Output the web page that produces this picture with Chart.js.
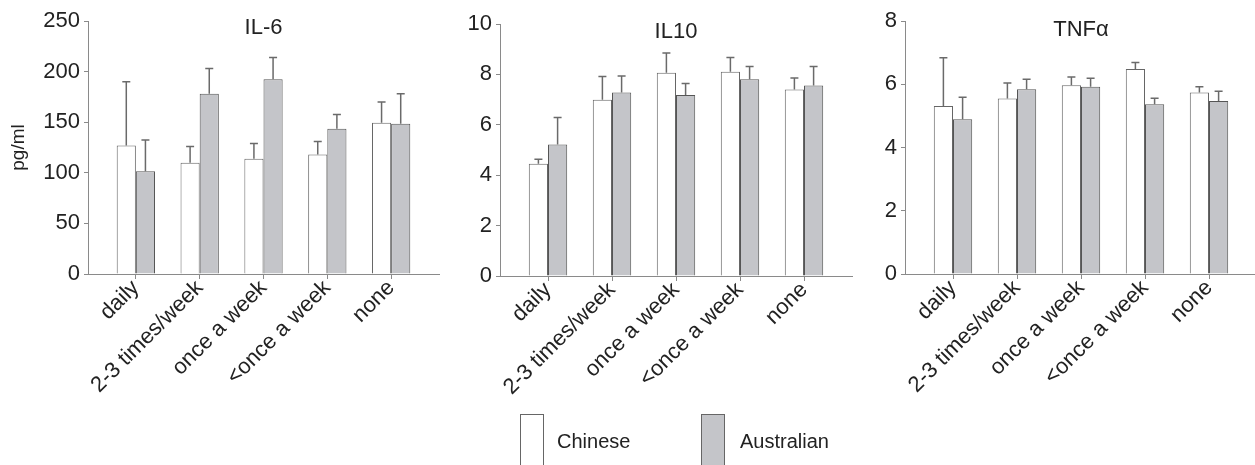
<!DOCTYPE html>
<html><head><meta charset="utf-8">
<script src="https://cdn.jsdelivr.net/npm/chart.js@4.4.1/dist/chart.umd.min.js"></script>
<style>
html,body{margin:0;padding:0;background:#fff;}
body{position:relative;width:1255px;height:465px;overflow:hidden;font-family:"Liberation Sans",Arial,sans-serif;}
canvas{position:absolute;top:0;}
.box{position:absolute;top:414px;width:22px;height:70px;border:1px solid #666;}
.lbl{position:absolute;font-size:20px;color:#222;line-height:20px;}
</style></head><body>
<canvas id="c1" width="445" height="465" style="left:0"></canvas>
<canvas id="c2" width="410" height="465" style="left:445px"></canvas>
<canvas id="c3" width="405" height="465" style="left:855px"></canvas>
<div class="box" style="left:520px;background:#fff"></div>
<div class="lbl" style="left:557px;top:431px">Chinese</div>
<div class="box" style="left:701px;background:#c4c5c9"></div>
<div class="lbl" style="left:740px;top:431px">Australian</div>
<script>
const categories = ['daily', '2-3 times/week', 'once a week', '<once a week', 'none'];
const seriesNames = ['Chinese', 'Australian'];

const il6Chinese = [127, 110, 114, 118, 149.5];
const il6ChineseErr = [63, 16, 15, 13, 20.5];
const il6Australian = [101.5, 178, 192.5, 143.5, 148.5];
const il6AustralianErr = [31, 25, 21.5, 14, 29.5];

const il10Chinese = [4.45, 6.99, 8.07, 8.11, 7.40];
const il10ChineseErr = [0.18, 0.93, 0.78, 0.56, 0.46];
const il10Australian = [5.22, 7.28, 7.18, 7.81, 7.56];
const il10AustralianErr = [1.07, 0.66, 0.46, 0.50, 0.75];

const tnfChinese = [5.31, 5.55, 5.97, 6.48, 5.74];
const tnfChineseErr = [1.53, 0.49, 0.26, 0.21, 0.18];
const tnfAustralian = [4.89, 5.84, 5.92, 5.37, 5.47];
const tnfAustralianErr = [0.70, 0.32, 0.27, 0.19, 0.31];

const il6Ticks = {max: 250, step: 50};
const il10Ticks = {max: 10, step: 2};
const tnfTicks = {max: 8, step: 2};

const FONT = '"Liberation Sans", Arial, sans-serif';
const TEXT = '#222';
const AXIS = '#8a8a8a';

const errorBarPlugin = {
  id: 'errorBars',
  afterDatasetsDraw(chart) {
    const ctx = chart.ctx;
    const yScale = chart.scales.y;
    ctx.save();
    ctx.strokeStyle = '#6a6a6a';
    ctx.lineWidth = 1.5;
    chart.data.datasets.forEach((ds, di) => {
      const meta = chart.getDatasetMeta(di);
      meta.data.forEach((bar, i) => {
        const top = yScale.getPixelForValue(ds.data[i].y + ds.errors[i]);
        ctx.beginPath();
        ctx.moveTo(bar.x, bar.y);
        ctx.lineTo(bar.x, top);
        ctx.moveTo(bar.x - 4, top);
        ctx.lineTo(bar.x + 4, top);
        ctx.stroke();
      });
    });
    ctx.restore();
  }
};

function makePanel(id, title, chinese, chineseErr, australian, australianErr, ticks, geom, yTitle) {
  const titlePlugin = {
    id: 'panelTitle',
    afterDraw(chart) {
      const a = chart.chartArea, ctx = chart.ctx;
      ctx.save();
      ctx.font = '22px ' + FONT;
      ctx.fillStyle = TEXT;
      ctx.textAlign = 'center';
      ctx.textBaseline = 'middle';
      ctx.fillText(title, (a.left + a.right) / 2, a.top + geom.titleDy);
      ctx.restore();
    }
  };
  const toPts = arr => arr.map((v, i) => ({x: i, y: v}));
  new Chart(document.getElementById(id), {
    type: 'bar',
    data: {
      datasets: [
        {label: seriesNames[0], data: toPts(chinese), errors: chineseErr,
         backgroundColor: '#ffffff', borderColor: '#666', borderWidth: 1,
         categoryPercentage: 0.6, barPercentage: 1.0},
        {label: seriesNames[1], data: toPts(australian), errors: australianErr,
         backgroundColor: '#c4c5c9', borderColor: '#555', borderWidth: 1,
         categoryPercentage: 0.6, barPercentage: 1.0}
      ]
    },
    options: {
      responsive: false,
      animation: false,
      layout: {padding: {left: 0, right: geom.padRight, top: geom.top, bottom: 0}},
      plugins: {legend: {display: false}, tooltip: {enabled: false}, title: {display: false}},
      scales: {
        x: {
          type: 'linear',
          offset: false,
          min: -0.75, max: 4.75,
          afterBuildTicks: s => { s.ticks = categories.map((c, i) => ({value: i})); },
          afterFit: s => { s.height = 465 - geom.bottom; },
          border: {display: true, color: AXIS, width: 1},
          grid: {display: true, offset: false, drawOnChartArea: false, drawTicks: true, tickLength: 5, color: AXIS},
          ticks: {
            autoSkip: false, maxRotation: 45, minRotation: 45, padding: -4,
            color: TEXT, font: {family: FONT, size: 22},
            callback: v => categories[v] !== undefined ? categories[v] : ''
          }
        },
        y: {
          min: 0, max: ticks.max,
          afterFit: s => { s.width = geom.yWidth; },
          border: {display: true, color: AXIS, width: 1},
          grid: {display: true, drawOnChartArea: false, drawTicks: true, tickLength: 4, color: AXIS},
          ticks: {stepSize: ticks.step, padding: 4, color: TEXT, font: {family: FONT, size: 22}},
          title: yTitle ? {display: true, text: yTitle, color: TEXT, font: {family: FONT, size: 19}, padding: {top: 7, bottom: 0}} : {display: false}
        }
      }
    },
    plugins: [errorBarPlugin, titlePlugin]
  });
}

makePanel('c1', 'IL-6', il6Chinese, il6ChineseErr, il6Australian, il6AustralianErr, il6Ticks,
  {yWidth: 88, padRight: 6, top: 21, bottom: 274, titleDy: 7}, 'pg/ml');
makePanel('c2', 'IL10', il10Chinese, il10ChineseErr, il10Australian, il10AustralianErr, il10Ticks,
  {yWidth: 55, padRight: 3, top: 24, bottom: 276, titleDy: 8}, null);
makePanel('c3', 'TNF\u03B1', tnfChinese, tnfChineseErr, tnfAustralian, tnfAustralianErr, tnfTicks,
  {yWidth: 50, padRight: 3, top: 21, bottom: 274, titleDy: 9}, null);
</script>
</body></html>
